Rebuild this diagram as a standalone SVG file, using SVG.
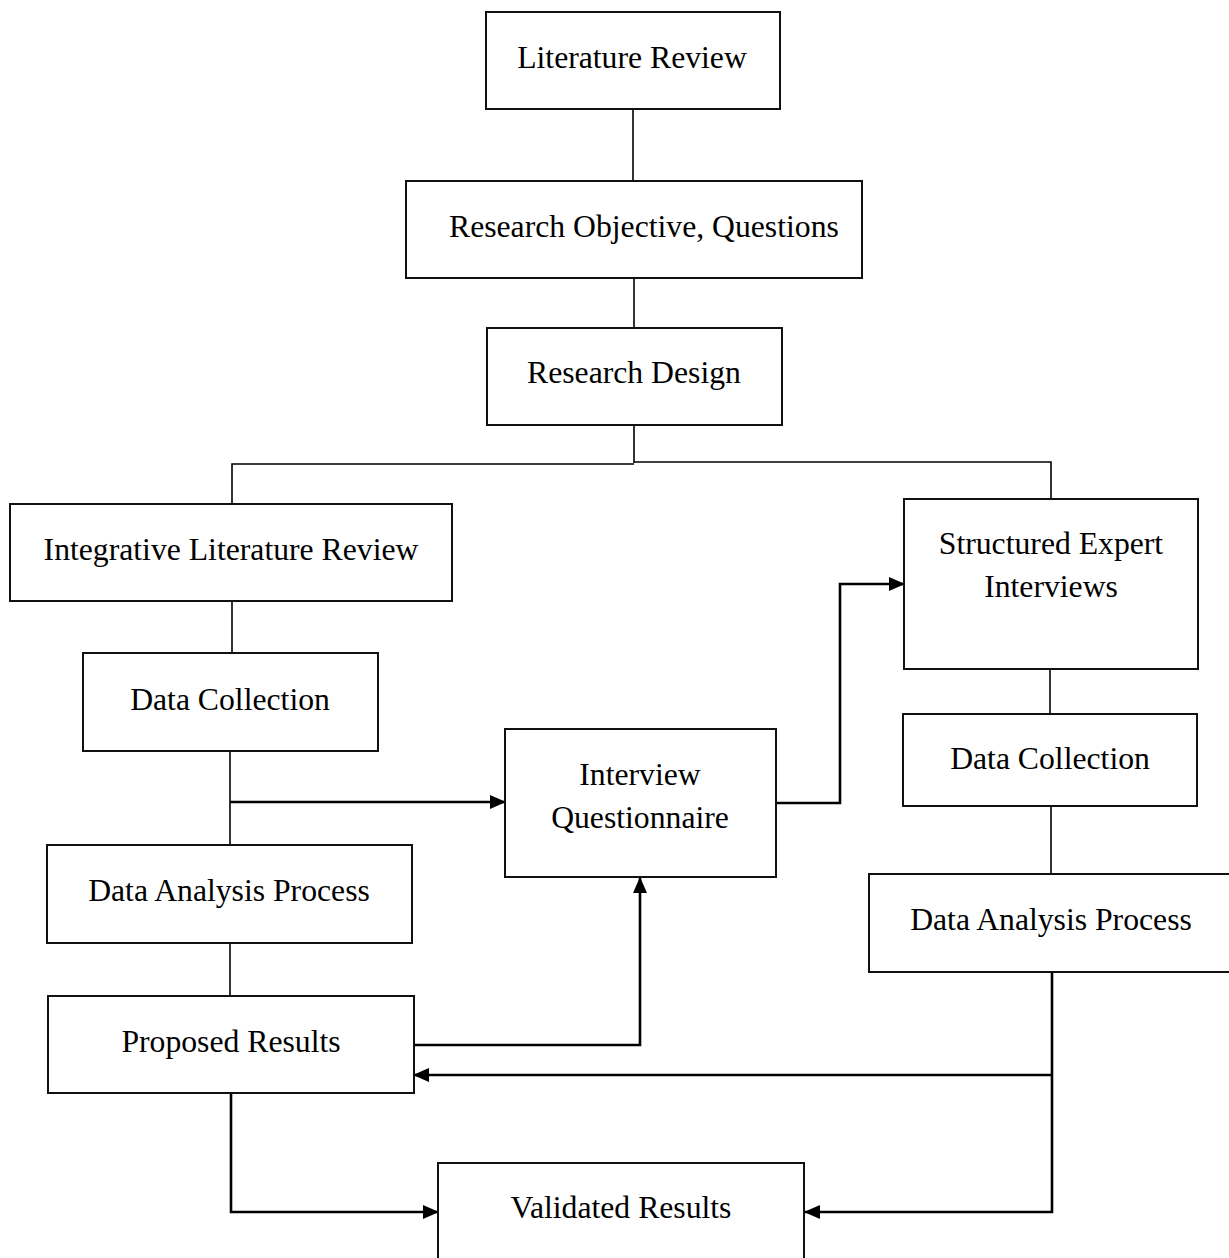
<svg xmlns="http://www.w3.org/2000/svg" width="1229" height="1258" viewBox="0 0 1229 1258">
  <style>
    .box { fill: #ffffff; stroke: #111111; stroke-width: 2; }
    .lbl { font-family: "Liberation Serif", "Times New Roman", serif; font-size: 31.7px; fill: #000000; text-anchor: middle; }
    .link { fill: none; stroke: #000000; stroke-width: 1.6; }
    .flow { fill: none; stroke: #000000; stroke-width: 2.6; }
  </style>
  <defs>
    <marker id="arrow" markerUnits="userSpaceOnUse" markerWidth="16" markerHeight="14" refX="15" refY="7" orient="auto">
      <path d="M0,0 L16,7 L0,14 z" fill="#000000"/>
    </marker>
  </defs>
  <rect width="1229" height="1258" fill="#ffffff"/>

  <!-- connectors -->
  <g id="connectors">
    <path class="link" d="M633,109 V181"/>
    <path class="link" d="M634,278 V328"/>
    <path class="link" d="M634,425 V463 M634,464 H232 V504 M634,462 H1051 V499"/>
    <path class="link" d="M232,601 V653"/>
    <path class="link" d="M230,751 V845"/>
    <path class="link" d="M230,943 V996"/>
    <path class="link" d="M1050,669 V714"/>
    <path class="link" d="M1051,806 V874"/>
    <path class="flow" d="M230,802 H505" marker-end="url(#arrow)"/>
    <path class="flow" d="M414,1045 H640 V878" marker-end="url(#arrow)"/>
    <path class="flow" d="M776,803 H840 V584 H904" marker-end="url(#arrow)"/>
    <path class="flow" d="M1052,972 V1212 H805" marker-end="url(#arrow)"/>
    <path class="flow" d="M1052,1075 H414" marker-end="url(#arrow)"/>
    <path class="flow" d="M231,1093 V1212 H438" marker-end="url(#arrow)"/>
  </g>

  <!-- nodes -->
  <g id="literature-review">
    <rect class="box" x="486" y="12" width="294" height="97"/>
    <text class="lbl" x="632" y="68">Literature Review</text>
  </g>
  <g id="research-objective">
    <rect class="box" x="406" y="181" width="456" height="97"/>
    <text class="lbl" x="449" y="237" style="text-anchor:start">Research Objective, Questions</text>
  </g>
  <g id="research-design">
    <rect class="box" x="487" y="328" width="295" height="97"/>
    <text class="lbl" x="634" y="383">Research Design</text>
  </g>
  <g id="integrative-review">
    <rect class="box" x="10" y="504" width="442" height="97"/>
    <text class="lbl" x="231" y="560">Integrative Literature Review</text>
  </g>
  <g id="data-collection-left">
    <rect class="box" x="83" y="653" width="295" height="98"/>
    <text class="lbl" x="230" y="710">Data Collection</text>
  </g>
  <g id="data-analysis-left">
    <rect class="box" x="47" y="845" width="365" height="98"/>
    <text class="lbl" x="229" y="901">Data Analysis Process</text>
  </g>
  <g id="proposed-results">
    <rect class="box" x="48" y="996" width="366" height="97"/>
    <text class="lbl" x="231" y="1052">Proposed Results</text>
  </g>
  <g id="interview-questionnaire">
    <rect class="box" x="505" y="729" width="271" height="148"/>
    <text class="lbl" x="640" y="785">Interview</text>
    <text class="lbl" x="640" y="828">Questionnaire</text>
  </g>
  <g id="expert-interviews">
    <rect class="box" x="904" y="499" width="294" height="170"/>
    <text class="lbl" x="1051" y="554">Structured Expert</text>
    <text class="lbl" x="1051" y="597">Interviews</text>
  </g>
  <g id="data-collection-right">
    <rect class="box" x="903" y="714" width="294" height="92"/>
    <text class="lbl" x="1050" y="769">Data Collection</text>
  </g>
  <g id="data-analysis-right">
    <rect class="box" x="869" y="874" width="364" height="98"/>
    <text class="lbl" x="1051" y="930">Data Analysis Process</text>
  </g>
  <g id="validated-results">
    <rect class="box" x="438" y="1163" width="366" height="100"/>
    <text class="lbl" x="621" y="1218">Validated Results</text>
  </g>
</svg>
